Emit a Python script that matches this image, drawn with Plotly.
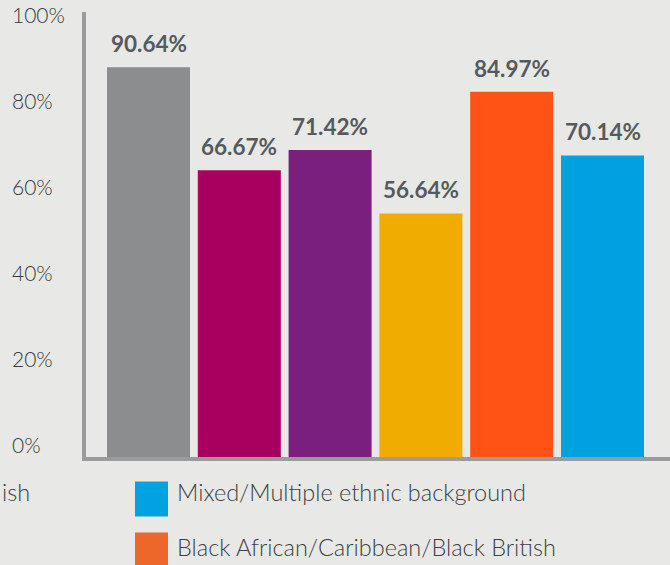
import plotly.graph_objects as go

# ---- data ----
categories = ["Group 1", "Group 2", "Group 3", "Group 4",
              "Black African/Caribbean/Black British",
              "Mixed/Multiple ethnic background"]
values = [90.64, 66.67, 71.42, 56.64, 84.97, 70.14]
bar_colors = ["#8c8d8f", "#a8005f", "#7b1f7f", "#f0ad00", "#ff5316", "#00a1df"]
tick_vals = [0, 20, 40, 60, 80, 100]
tick_text = ["0%", "20%", "40%", "60%", "80%", "100%"]
legend_labels = ["Mixed/Multiple ethnic background",
                 "Black African/Caribbean/Black British"]
legend_colors = ["#00a3e0", "#ec6729"]
cut_label = "ish"

# ---- layout constants (pixels) ----
W, H = 670, 565
PLOT_LEFT, PLOT_BOTTOM, PLOT_TOP = 86, 457, 12
PX_PER_UNIT = 4.3
BAR_PITCH = 90.8
FIRST_CENTER = 148.5
y_max = (PLOT_BOTTOM - PLOT_TOP) / PX_PER_UNIT
x_min = -(FIRST_CENTER - PLOT_LEFT) / BAR_PITCH
x_max = x_min + (W - PLOT_LEFT) / BAR_PITCH

BG = "#e8e8e6"
AXIS = "#9a9b9d"
LEG_FONT = dict(family="Lato", size=23.5, color="#3c4144", weight=300)

fig = go.Figure()
fig.add_trace(go.Bar(
    x=categories, y=values, marker=dict(color=bar_colors, line=dict(width=0)),
    showlegend=False, hoverinfo="skip",
))

# value labels above bars
for c, v in zip(categories, values):
    fig.add_annotation(
        x=c, y=v, xref="x", yref="y", text=f"<b>{v:.2f}%</b>",
        showarrow=False, yanchor="bottom", yshift=8,
        font=dict(family="Lato", size=22.5, color="#555a5e", weight=900),
    )

# legend (swatches + labels)
swatch_y = [481.5, 532.5]
text_mid_y = [491.5, 546.5]
for lab, col, sy, ty in zip(legend_labels, legend_colors, swatch_y, text_mid_y):
    fig.add_shape(type="rect", xref="paper", yref="paper",
                  x0=135 / W, x1=168 / W, y0=1 - sy / H,
                  y1=max(0, 1 - (sy + 35) / H),
                  fillcolor=col, line=dict(width=0), layer="above")
    fig.add_annotation(xref="paper", yref="paper", x=175 / W, y=1 - ty / H,
                       xanchor="left", yanchor="middle", showarrow=False, text=lab,
                       font=LEG_FONT)
fig.add_annotation(xref="paper", yref="paper", x=0, y=1 - text_mid_y[0] / H,
                   xanchor="left", yanchor="middle", showarrow=False, text=cut_label,
                   font=LEG_FONT)

fig.update_layout(
    template="none",
    width=W, height=H,
    margin=dict(l=0, r=0, t=0, b=0, pad=0, autoexpand=False),
    paper_bgcolor=BG, plot_bgcolor=BG,
    bargap=0.086,
    xaxis=dict(type="category", range=[x_min, x_max], domain=[PLOT_LEFT / W, 1],
               showticklabels=False, ticks="", showgrid=False, zeroline=False,
               automargin=False,
               showline=True, linecolor=AXIS, linewidth=4, fixedrange=True),
    yaxis=dict(range=[0, y_max], domain=[1 - PLOT_BOTTOM / H, 1 - PLOT_TOP / H],
               showticklabels=False, ticks="", showgrid=False, zeroline=False,
               automargin=False,
               showline=True, linecolor=AXIS, linewidth=4),
    yaxis2=dict(range=[0, y_max], overlaying="y", anchor="free", position=11 / W,
                side="right", tickvals=tick_vals, ticktext=tick_text,
                showgrid=False, zeroline=False, showline=False, ticks="",
                automargin=False, ticklabelshift=-11,
                tickfont=dict(family="Lato", size=21, color="#3a3a3a", weight=300)),
)

# invisible trace so yaxis2 renders
fig.add_trace(go.Scatter(x=[categories[0]], y=[0], yaxis="y2", mode="markers",
                         marker=dict(opacity=0), showlegend=False, hoverinfo="skip"))

fig.write_html(
    "out.html",
    config={"displayModeBar": False},
    post_script="document.body.style.margin='0';document.body.style.overflow='hidden';",
)
